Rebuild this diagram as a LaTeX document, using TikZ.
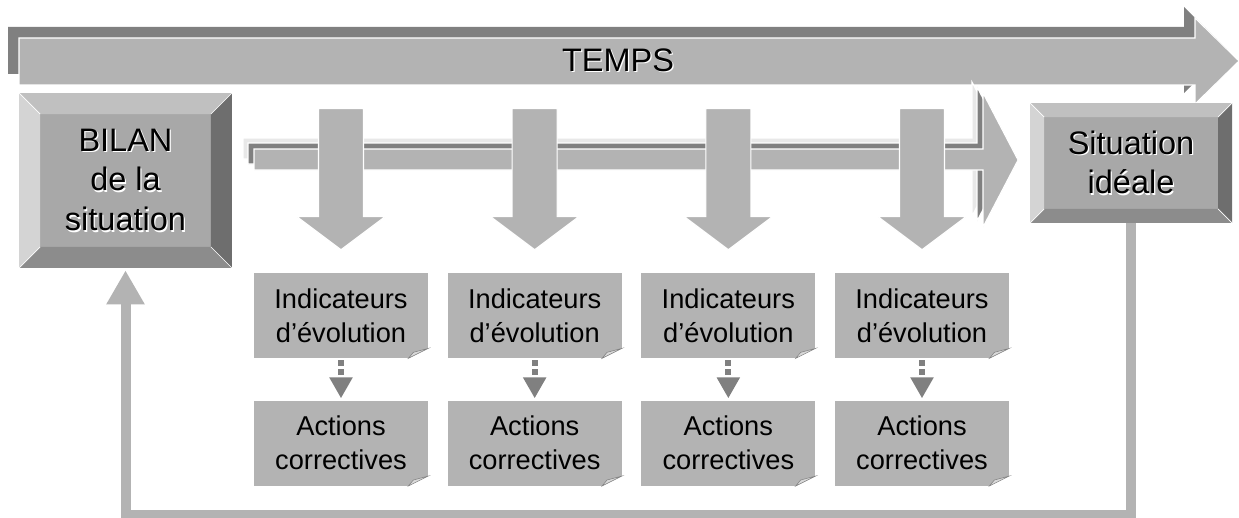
\documentclass[tikz,border=0pt]{standalone}
\usepackage{fontspec}
\setmainfont{Liberation Sans}
\usetikzlibrary{arrows.meta,positioning,calc}

\definecolor{arrowgray}{HTML}{B3B3B3}
\definecolor{shadowgray}{HTML}{808080}
\definecolor{palegray}{HTML}{E8E8E8}
\definecolor{facegray}{HTML}{A8A8A8}
\definecolor{bevtop}{HTML}{C0C0C0}
\definecolor{bevleft}{HTML}{D4D4D4}
\definecolor{bevright}{HTML}{6E6E6E}
\definecolor{bevbottom}{HTML}{8C8C8C}
\definecolor{foldgray}{HTML}{D9D9D9}

\newcommand{\emb}[1]{\leavevmode\rlap{\kern0.7pt\raisebox{-0.7pt}{\color{white}#1}}#1}

\begin{document}
\begin{tikzpicture}[x=0.02cm, y=-0.02cm,
    bigtext/.style={font=\fontsize{18.5}{22.7}\selectfont, align=center, inner sep=0pt},
    smalltext/.style={font=\fontsize{15.5}{19.3}\selectfont, align=center, inner sep=0pt},
    bigarrow/.style={fill=arrowgray, draw=white, line width=0.6pt},
    notebox/.style={smalltext, fill=arrowgray, minimum width=3.48cm, minimum height=1.7cm},
    fold/.style={fill=foldgray, draw=shadowgray, line width=0.3pt},
    dotarrow/.style={shadowgray, line width=1.2mm, dash pattern=on 1.2mm off 0.6mm,
      shorten <=0.04cm, shorten >=0.04cm, -{Triangle[width=0.44cm, length=0.42cm]}},
    feedback/.style={arrowgray, line width=0.2cm, shorten >=0.04cm,
      -{Triangle[width=0.72cm, length=0.68cm]}},
    bevelbox/.style={bigtext, fill=facegray, path picture={
        \path (path picture bounding box.north west) coordinate (bnw)
              (path picture bounding box.south east) coordinate (bse);
        \fill[bevtop] (bnw) -- (bnw -| bse) -- ($(bnw -| bse)+(-#1,#1)$) -- ($(bnw)+(#1,#1)$) -- cycle;
        \fill[bevleft] (bnw) -- ($(bnw)+(#1,#1)$) -- ($(bnw |- bse)+(#1,-#1)$) -- (bnw |- bse) -- cycle;
        \fill[bevright] (bnw -| bse) -- (bse) -- ($(bse)+(-#1,-#1)$) -- ($(bnw -| bse)+(-#1,#1)$) -- cycle;
        \fill[bevbottom] (bnw |- bse) -- (bse) -- ($(bse)+(-#1,-#1)$) -- ($(bnw |- bse)+(#1,-#1)$) -- cycle;
        \draw[white, line width=0.4pt] (bnw) -- ++(#1,#1) (bse) -- ++(-#1,-#1)
          (bnw -| bse) -- ++(-#1,#1) (bnw |- bse) -- ++(#1,-#1);
      }}]
  \useasboundingbox (0,0) rectangle (1239,517);

  % time arrow
  \fill[shadowgray] (8,27) -- (1184,27) -- (1184,7) -- (1228,50) -- (1184,93) -- (1184,74) -- (8,74) -- cycle;
  \fill[bigarrow] (19,38) -- (1195,38) -- (1195,18) -- (1239,61) -- (1195,104) -- (1195,85) -- (19,85) -- cycle;
  \node[bigtext] (temps) at (618,61) {\emb{TEMPS}};

  \node[bevelbox=21, minimum width=4.26cm, minimum height=3.5cm] (bilan) at (125.5,180.5)
    {\emb{BILAN}\\\emb{de la}\\\emb{situation}};
  \node[bevelbox=14, minimum width=4.04cm, minimum height=2.4cm] (ideal) at (1131,163)
    {\emb{Situation}\\\emb{idéale}};

  \foreach \d/\c in {11/palegray, 6/shadowgray, 0/arrowgray}
    \fill[bigarrow, fill=\c, shift={(-\d,-\d)}] (254,149) -- (983,149) -- (983,93) -- (1018,160)
      -- (983,227) -- (983,170) -- (254,170) -- cycle;

  \node[notebox] (ind1) at (341,315.5) {Indicateurs\\d’évolution};
  \foreach \i [count=\j from 2] in {1,2,3}
    \node[notebox, right=0.38cm of ind\i] (ind\j) {Indicateurs\\d’évolution};
  \foreach \i in {1,...,4}
    \node[notebox, below=0.84cm of ind\i] (act\i) {Actions\\correctives};

  \foreach \i in {1,...,4} {
    \fill[bigarrow] ([yshift=0.46cm]ind\i.north) -- ++(44,-33) -- ++(-21.5,0) -- ++(0,-108)
      -- ++(-45,0) -- ++(0,108) -- ++(-21.5,0) -- cycle;
    \draw[dotarrow] (ind\i) -- (act\i);
  }

  \foreach \n in {ind1,ind2,ind3,ind4,act1,act2,act3,act4} {
    \fill[white] ($(\n.south east)+(0.5,0.5)$) -- ++(0,-11) -- ++(-21,11) -- cycle;
    \filldraw[fold] ($(\n.south east)+(0,-10)$) -- ($(\n.south east)+(-20,0)$)
      -- ($(\n.south east)+(-15,-6)$) -- cycle;
  }

  \draw[feedback] (ideal.south) -- ++(0,292) -| (bilan.south);
\end{tikzpicture}
\end{document}
